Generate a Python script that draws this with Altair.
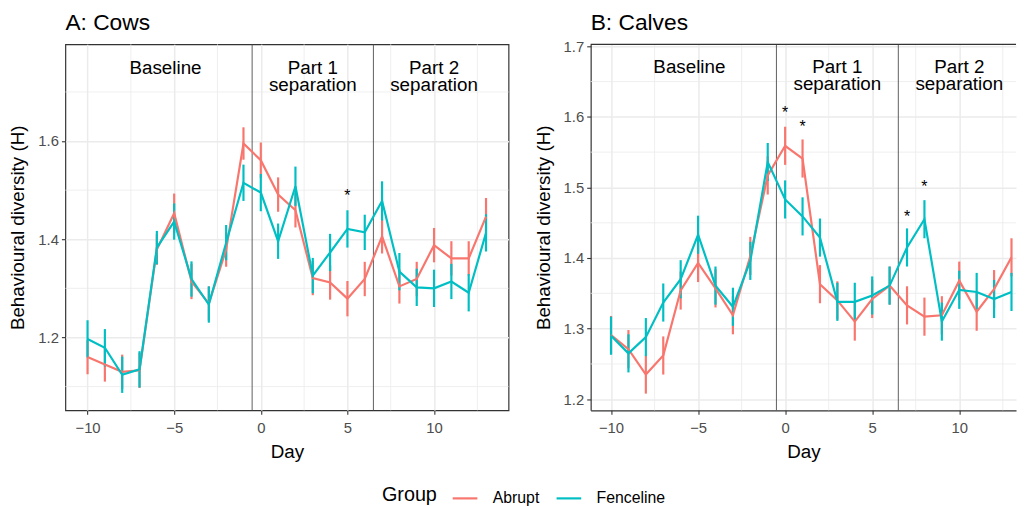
import altair as alt
import pandas as pd

# ---------------- data ----------------
days = list(range(-10, 14))

cows_abrupt = [1.160, 1.145, 1.130, 1.133, 1.379, 1.453, 1.314, 1.269, 1.379, 1.595,
               1.561, 1.491, 1.459, 1.321, 1.312, 1.279, 1.319, 1.406, 1.304, 1.319,
               1.388, 1.361, 1.361, 1.446]
cows_abrupt_se = [0.035, 0.035, 0.035, 0.036, 0.031, 0.040, 0.036, 0.035, 0.035, 0.033,
                  0.036, 0.035, 0.035, 0.035, 0.035, 0.036, 0.035, 0.035, 0.035, 0.035,
                  0.035, 0.035, 0.035, 0.038]
cows_fence = [1.197, 1.179, 1.124, 1.135, 1.383, 1.436, 1.319, 1.267, 1.393, 1.515,
              1.495, 1.396, 1.508, 1.326, 1.373, 1.421, 1.414, 1.478, 1.334, 1.302,
              1.300, 1.314, 1.291, 1.413]
cows_fence_se = [0.038, 0.038, 0.037, 0.037, 0.034, 0.037, 0.036, 0.037, 0.036, 0.037,
                 0.038, 0.036, 0.040, 0.036, 0.038, 0.038, 0.036, 0.040, 0.038, 0.038,
                 0.038, 0.036, 0.038, 0.038]

calves_abrupt = [1.291, 1.271, 1.235, 1.262, 1.354, 1.393, 1.357, 1.319, 1.403, 1.517,
                 1.559, 1.541, 1.363, 1.340, 1.310, 1.342, 1.361, 1.333, 1.317, 1.319,
                 1.368, 1.324, 1.356, 1.401]
calves_abrupt_se = [0.027] * 24
calves_fence = [1.290, 1.265, 1.288, 1.337, 1.370, 1.433, 1.361, 1.331, 1.396, 1.536,
                1.483, 1.459, 1.429, 1.338, 1.338, 1.347, 1.361, 1.415, 1.455, 1.310,
                1.355, 1.352, 1.342, 1.352]
calves_fence_se = [0.027] * 24

groups = ["Abrupt", "Fenceline"]
colors = ["#F8766D", "#00BFC4"]

period_labels = ["Baseline", "Part 1\nseparation", "Part 2\nseparation"]
period_x = [-5.5, 3.0, 10.0]
period_breaks = [-0.5, 6.5]

cows_star_x = [5]
cows_star_y = [1.494]
calves_star_x = [0, 1, 7, 8]
calves_star_y = [1.609, 1.590, 1.462, 1.505]

FONT = "Liberation Sans"


def long_df(a, a_se, f, f_se):
    rows = []
    for g, vals, ses in [("Abrupt", a, a_se), ("Fenceline", f, f_se)]:
        for d, v, s in zip(days, vals, ses):
            rows.append({"day": d, "value": v, "lo": v - s, "hi": v + s, "group": g})
    return pd.DataFrame(rows)


def panel(title, title_dy, df, xdom, ydom, yticks, yminor, label_y, star_x, star_y, width, bordered):
    xs = alt.Scale(domain=xdom, nice=False, zero=False)
    ys = alt.Scale(domain=ydom, nice=False, zero=False)
    color = alt.Color(
        "group:N",
        scale=alt.Scale(domain=groups, range=colors),
        title="Group",
        legend=alt.Legend(
            orient="none", direction="horizontal", legendX=320, legendY=445,
            titleOrient="left", symbolType="stroke", symbolSize=620,
            symbolStrokeWidth=2.2, titleFontSize=20, labelFontSize=16,
            titleFont=FONT, labelFont=FONT, titleFontWeight="normal",
            labelColor="black", titleColor="black", titlePadding=14,
            labelOffset=14, columnPadding=12, titleBaseline="middle",
        ),
    )
    xaxis = alt.Axis(values=[-10, -5, 0, 5, 10], format="d", title="Day",
                     domain=not bordered, labelPadding=6)
    yaxis = alt.Axis(values=yticks, format=".1f", title="Behavioural diversity (H)",
                     domain=not bordered)

    minor_x = pd.DataFrame({"x": [-7.5, -2.5, 2.5, 7.5, 12.5]})
    minor_y = pd.DataFrame({"y": yminor})
    gx = alt.Chart(minor_x).mark_rule(color="#EBEBEB", strokeWidth=0.8).encode(
        x=alt.X("x:Q", scale=xs, axis=xaxis))
    gy = alt.Chart(minor_y).mark_rule(color="#EBEBEB", strokeWidth=0.8).encode(
        y=alt.Y("y:Q", scale=ys, axis=yaxis))

    vl = alt.Chart(pd.DataFrame({"x": period_breaks})).mark_rule(
        color="#4D4D4D", strokeWidth=0.9).encode(x=alt.X("x:Q", scale=xs))

    base = alt.Chart(df)
    err = base.mark_rule(strokeWidth=2.2).encode(
        x=alt.X("day:Q", scale=xs), y=alt.Y("lo:Q", scale=ys), y2="hi:Q", color=color)
    line = base.mark_line(strokeWidth=2.2).encode(
        x=alt.X("day:Q", scale=xs), y=alt.Y("value:Q", scale=ys), color=color)

    lab_df = pd.DataFrame({"x": period_x, "y": [label_y] * 3, "t": period_labels})
    labs = alt.Chart(lab_df).mark_text(
        fontSize=19, font=FONT, color="black", baseline="top", align="center",
        lineBreak="\n", lineHeight=17).encode(
        x=alt.X("x:Q", scale=xs), y=alt.Y("y:Q", scale=ys), text="t:N")

    st_df = pd.DataFrame({"x": star_x, "y": star_y, "t": ["*"] * len(star_x)})
    stars = alt.Chart(st_df).mark_text(
        fontSize=16, font=FONT, color="black", baseline="middle", align="center", dy=3).encode(
        x=alt.X("x:Q", scale=xs), y=alt.Y("y:Q", scale=ys), text="t:N")

    layers = [gx, gy, vl, err, line, labs, stars]
    if not bordered:
        top = alt.Chart(pd.DataFrame({"a": [0]})).mark_rule(
            color="#333333", strokeWidth=1.2).encode(
            x=alt.value(0), x2=alt.value(width), y=alt.value(0))
        layers.append(top)
    ch = alt.layer(*layers).properties(
        width=width, height=370,
        title=alt.TitleParams(title, anchor="start", frame="group", fontSize=23, font=FONT,
                              fontWeight="normal", color="black", offset=4, dy=title_dy),
    )
    if not bordered:
        ch = ch.properties(view=alt.ViewBackground(stroke="transparent"))
    return ch


cows = panel("A: Cows", -5, long_df(cows_abrupt, cows_abrupt_se, cows_fence, cows_fence_se),
             [-11.28, 14.3], [1.0515, 1.797], [1.2, 1.4, 1.6], [1.1, 1.3, 1.5, 1.7],
             1.7666, cows_star_x, cows_star_y, 448, True)
calves = panel("B: Calves", 0, long_df(calves_abrupt, calves_abrupt_se, calves_fence, calves_fence_se),
               [-11.17, 13.26], [1.1843, 1.7027], [1.2, 1.3, 1.4, 1.5, 1.6, 1.7],
               [1.25, 1.35, 1.45, 1.55, 1.65], 1.6826, calves_star_x, calves_star_y, 430, False)

chart = alt.hconcat(cows, calves, spacing=24).properties(
    padding={"left": 0, "top": 0, "right": 0, "bottom": 0}
).configure_view(stroke="#333333", strokeWidth=1.2).configure_axis(
    grid=True, gridColor="#EBEBEB", gridWidth=1.5,
    tickColor="#333333", tickSize=4, tickWidth=1.1,
    domainColor="#333333", domainWidth=1.2,
    labelColor="#4D4D4D", labelFontSize=15, labelFont=FONT, labelPadding=3,
    titleFontSize=19, titleFont=FONT, titleFontWeight="normal", titleColor="black",
    titlePadding=8,
).configure_axisY(titlePadding=10)

chart.save("out.html", embed_options={"renderer": "svg", "actions": False})
